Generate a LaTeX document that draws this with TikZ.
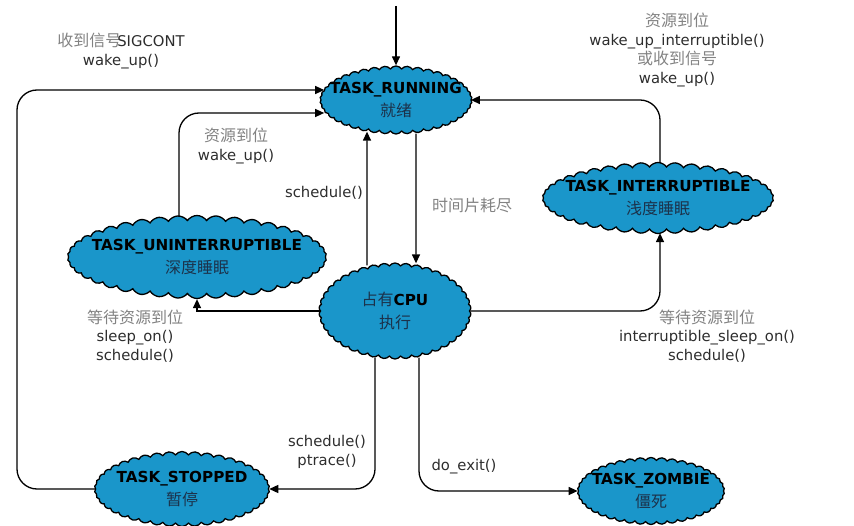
\documentclass[tikz,border=0pt]{standalone}
\usepackage{fontspec}
\setmainfont{DejaVu Sans}
\newfontfamily\cjk{Noto Sans CJK SC}
\usetikzlibrary{shapes.symbols,arrows.meta,calc}
\definecolor{cloudfill}{RGB}{26,150,202}
\definecolor{cntext}{RGB}{28,50,75}
\definecolor{lbltext}{RGB}{45,45,45}
\definecolor{lblcn}{RGB}{130,130,130}
\tikzset{
  state/.style={cloud, cloud puffs=42, cloud puff arc=110, cloud ignores aspect,
    draw=black, line width=1.3pt, fill=cloudfill, inner sep=0pt, align=center,
    font=\fontsize{15.2}{23}\selectfont},
  arr/.style={line width=1.3pt, -{Triangle[length=9pt,width=8pt]}},
  rc/.style={rounded corners=20pt},
  lbl/.style={align=center, text=lbltext, font=\fontsize{14.8}{18.7}\selectfont, inner sep=0pt},
}
\newcommand{\cn}[1]{{\cjk\fontsize{16}{18.7}\selectfont\color{lblcn}#1}}
\newcommand{\ncn}[1]{{\cjk\fontsize{16}{23}\selectfont\color{cntext}#1}}
\newcommand{\zb}[1]{\makebox[0pt]{#1}}
\begin{document}
\begin{tikzpicture}[x=1pt,y=-1pt]
\useasboundingbox (0,0) rectangle (854,526);
\node[state, minimum width=152pt, minimum height=68pt] (run) at (396,100) {\zb{\textbf{TASK\_RUNNING}}\\\zb{\ncn{就绪}}};
\node[state, minimum width=231pt, minimum height=71pt] (intr) at (658,198) {\zb{\textbf{TASK\_INTERRUPTIBLE}}\\\zb{\ncn{浅度睡眠}}};
\node[state, minimum width=259pt, minimum height=83pt] (unint) at (197,257) {\zb{\textbf{TASK\_UNINTERRUPTIBLE}}\\\zb{\ncn{深度睡眠}}};
\node[state, minimum width=152pt, minimum height=96pt] (cpu) at (395,311) {\zb{\ncn{占有}\textbf{CPU}}\\\zb{\ncn{执行}}};
\node[state, minimum width=175pt, minimum height=75pt] (stop) at (182,489) {\zb{\textbf{TASK\_STOPPED}}\\\zb{\ncn{暂停}}};
\node[state, minimum width=147pt, minimum height=67pt] (zomb) at (651,491) {\zb{\textbf{TASK\_ZOMBIE}}\\\zb{\ncn{僵死}}};

\coordinate (start) at (396,6);
\coordinate (lc) at (17,90);
\draw[arr] (start) -- (run.north -| start);
\draw[arr, rc] (stop.west) -| (lc) -- ($(run.west)+(4,-10)$);
\draw[arr, rc] ($(unint.north)+(-18,2)$) |- ($(run.west)+(4,13)$);
\draw[arr] ($(cpu.north)+(-28,3)$) -- ($(run.south)+(-29,-3)$);
\draw[arr] ($(run.south)+(20,-1)$) -- ($(cpu.north)+(21,1)$);
\draw[arr, rc] ($(intr.north)+(2,1)$) |- ($(run.east)+(-1,0)$);
\draw[arr, rc] (cpu.east) -| ($(intr.south)+(2,-1)$);
\draw[arr] (cpu.west) -| (unint.south);
\draw[arr, rc] ($(cpu.south)+(-20,-2)$) |- (stop.east);
\draw[arr, rc] ($(cpu.south)+(24,-2)$) |- (zomb.west);

\node[lbl] (l1) at (121,51) {\cn{收到信号}\kern-4pt SIGCONT\\wake\_up()};
\node[lbl] (l2) at (236,146) {\cn{资源到位}\\wake\_up()};
\node[lbl] (l3) at (324,193) {schedule()};
\node[lbl] (l4) at (472,205) {\cn{时间片耗尽}};
\node[lbl] (l5) at (677,50) {\cn{资源到位}\\wake\_up\_interruptible()\\\cn{或收到信号}\\wake\_up()};
\node[lbl] (l6) at (135,336) {\cn{等待资源到位}\\sleep\_on()\\schedule()};
\node[lbl] (l7) at (707,336) {\cn{等待资源到位}\\interruptible\_sleep\_on()\\schedule()};
\node[lbl] (l8) at (327,452) {schedule()\\ptrace()};
\node[lbl] (l9) at (464,467) {do\_exit()};
\end{tikzpicture}
\end{document}
